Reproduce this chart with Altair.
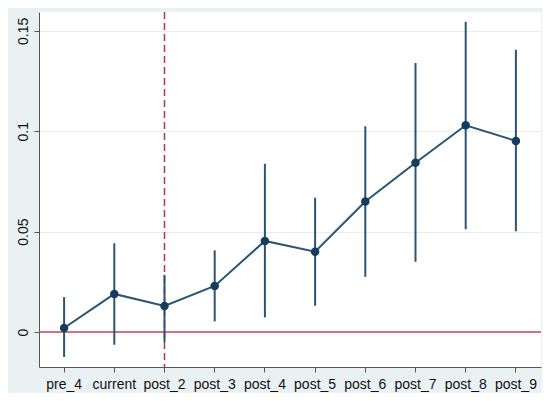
import altair as alt
import pandas as pd

periods = ["pre_4", "current", "post_2", "post_3", "post_4", "post_5",
           "post_6", "post_7", "post_8", "post_9"]
estimate = [0.002, 0.019, 0.013, 0.023, 0.0454, 0.040, 0.065, 0.0843, 0.103, 0.0952]
ci_low = [-0.0124, -0.0063, -0.005, 0.0053, 0.0073, 0.0131, 0.0275, 0.035, 0.0512, 0.0502]
ci_high = [0.0174, 0.0442, 0.0285, 0.0407, 0.0838, 0.0669, 0.1025, 0.134, 0.1545, 0.1406]
y_ticks = [0, 0.05, 0.1, 0.15]
event_period = "post_2"

df = pd.DataFrame({"period": periods, "est": estimate, "lo": ci_low, "hi": ci_high})

LINE = "#2b5573"
DOT = "#163c5e"
FONT = "Liberation Sans"

xscale = alt.Scale(domain=periods, paddingInner=0, paddingOuter=0)
yscale = alt.Scale(domain=[-0.0174, 0.1594], nice=False, zero=False)

xaxis = alt.Axis(title=None, grid=False, tickSize=5, labelPadding=5, labelAngle=0,
                 labelFontSize=14, labelFont=FONT, labelColor="#111111",
                 domainColor="#555555", tickColor="#555555")
yaxis = alt.Axis(title=None, values=y_ticks, labelExpr="toString(datum.value)",
                 grid=True, gridColor="#ececec", tickSize=5, labelAngle=270,
                 labelAlign="center", labelBaseline="bottom", labelPadding=4,
                 labelFontSize=14, labelFont=FONT, labelColor="#111111",
                 domainColor="#555555", tickColor="#555555")

base = alt.Chart(df)

vline = alt.Chart(pd.DataFrame({"period": [event_period]})).mark_rule(
    color="#a83a52", strokeDash=[7, 4], strokeWidth=1.5
).encode(x=alt.X("period:N", scale=xscale, axis=xaxis, sort=periods))

zero = alt.Chart(pd.DataFrame({"v": [0]})).mark_rule(
    color="#c8445c", strokeWidth=1.6
).encode(y=alt.Y("v:Q", scale=yscale, axis=yaxis))

ci = base.mark_rule(color=LINE, strokeWidth=2).encode(
    x=alt.X("period:N", scale=xscale, axis=xaxis, sort=periods),
    y=alt.Y("lo:Q", scale=yscale, axis=yaxis),
    y2="hi:Q",
)

line = base.mark_line(color=LINE, strokeWidth=2).encode(
    x=alt.X("period:N", scale=xscale, axis=xaxis, sort=periods),
    y=alt.Y("est:Q", scale=yscale, axis=yaxis),
)

pts = base.mark_point(filled=True, color=DOT, size=72, opacity=1).encode(
    x=alt.X("period:N", scale=xscale, axis=xaxis, sort=periods),
    y=alt.Y("est:Q", scale=yscale, axis=yaxis),
)

chart = alt.layer(vline, zero, ci, line, pts).properties(
    width=502, height=355,
    background="#e9f1f3",
    autosize=alt.AutoSizeParams(type="none"),
    padding={"left": 31, "top": 4, "right": 1, "bottom": 26},
).configure_view(fill="white", stroke=None)

chart.save("out.html", embed_options={"renderer": "svg", "actions": False})
